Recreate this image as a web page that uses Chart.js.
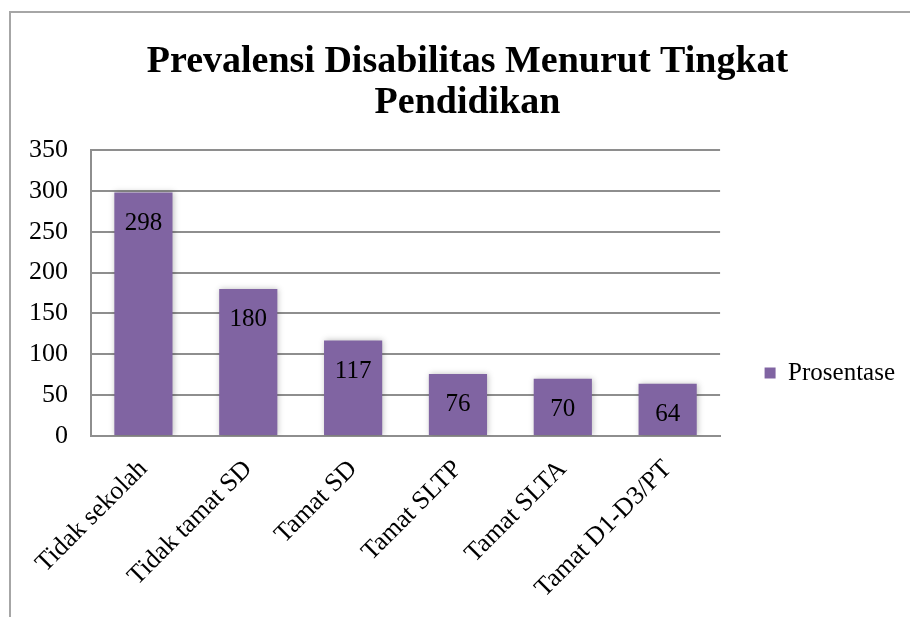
<!DOCTYPE html>
<html>
<head>
<meta charset="utf-8">
<script src="https://cdn.jsdelivr.net/npm/chart.js@4/dist/chart.umd.min.js"></script>
<style>
  html, body { margin: 0; padding: 0; background: #fff; }
  #wrap { position: relative; width: 910px; height: 617px; overflow: hidden; }
  #frame { position: absolute; left: 9px; top: 11px; width: 1000px; height: 700px;
           border-left: 2px solid #a6a6a6; border-top: 2px solid #a6a6a6; }
  canvas { position: absolute; left: 0; top: 0; }
</style>
</head>
<body>
<div id="wrap">
  <div id="frame"></div>
  <canvas id="c" width="910" height="617"></canvas>
</div>
<script>
const categories = ["Tidak sekolah", "Tidak tamat SD", "Tamat SD", "Tamat SLTP", "Tamat SLTA", "Tamat D1-D3/PT"];
const seriesName = "Prosentase";
const values = [298, 180, 117, 76, 70, 64];
const titleLines = ["Prevalensi Disabilitas Menurut Tingkat", "Pendidikan"];
const yTicks = [0, 50, 100, 150, 200, 250, 300, 350];

const SERIF = "'Liberation Serif', 'Times New Roman', serif";
const gridColor = '#8e8e8e';

const shadowPlugin = {
  id: 'barShadow',
  beforeDatasetDraw(chart) {
    const ctx = chart.ctx;
    ctx.save();
    ctx.shadowColor = 'rgba(0,0,0,0.25)';
    ctx.shadowBlur = 6;
    ctx.shadowOffsetX = 1;
    ctx.shadowOffsetY = 0;
  },
  afterDatasetDraw(chart) {
    chart.ctx.restore();
  }
};

const labelPlugin = {
  id: 'insideLabels',
  afterDatasetsDraw(chart) {
    const ctx = chart.ctx;
    const meta = chart.getDatasetMeta(0);
    ctx.save();
    ctx.font = "25px " + SERIF;
    ctx.fillStyle = '#000';
    ctx.textAlign = 'center';
    ctx.textBaseline = 'middle';
    meta.data.forEach((bar, i) => {
      ctx.fillText(String(chart.data.datasets[0].data[i]), bar.x, bar.y + 31);
    });
    ctx.restore();
  }
};

new Chart(document.getElementById('c'), {
  type: 'bar',
  data: {
    labels: categories,
    datasets: [{
      label: seriesName,
      data: values,
      backgroundColor: '#8064A2',
      borderWidth: 0,
      categoryPercentage: 1.0,
      barPercentage: 0.555
    }]
  },
  plugins: [shadowPlugin, labelPlugin],
  options: {
    responsive: false,
    animation: false,
    devicePixelRatio: 1,
    layout: { padding: { left: 30, right: 5, top: 0, bottom: 0 } },
    plugins: {
      tooltip: { enabled: false },
      title: {
        display: true,
        text: titleLines,
        color: '#000',
        font: { family: SERIF, size: 38, weight: 'bold', lineHeight: 1.08 },
        padding: { top: 41.5, bottom: 26.4 }
      },
      legend: {
        display: true,
        position: 'right',
        align: 'center',
        title: { display: true, text: '', font: { size: 10, lineHeight: 1 }, padding: { top: 119, bottom: 0 } },
        labels: {
          boxWidth: 11,
          boxHeight: 11,
          padding: 44.5,
          color: '#000',
          font: { family: SERIF, size: 25 }
        }
      }
    },
    scales: {
      x: {
        grid: { display: false, drawTicks: false },
        border: { display: true, color: gridColor, width: 2 },
        ticks: {
          color: '#000',
          font: { family: SERIF, size: 26 },
          minRotation: 45,
          maxRotation: 45,
          padding: 18,
          autoSkip: false
        },
        afterFit(scale) { scale.height = 181; }
      },
      y: {
        min: 0,
        max: 350,
        afterBuildTicks(scale) { scale.ticks = yTicks.map(v => ({ value: v })); },
        grid: { color: gridColor, lineWidth: 2, drawTicks: false },
        border: { display: true, color: gridColor, width: 2 },
        ticks: {
          color: '#000',
          font: { family: SERIF, size: 26 },
          padding: 23
        },
        afterFit(scale) { scale.width = 61; }
      }
    }
  }
});
</script>
</body>
</html>
